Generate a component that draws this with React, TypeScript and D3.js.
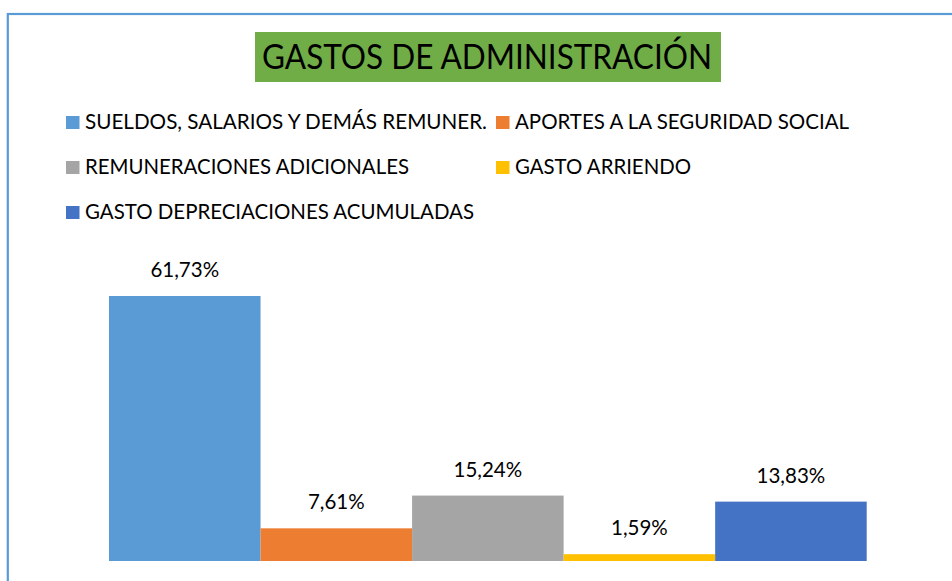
import React from "react";
import * as d3 from "d3";

const categories = [
  "SUELDOS, SALARIOS Y DEMÁS REMUNER.",
  "APORTES A LA SEGURIDAD SOCIAL",
  "REMUNERACIONES ADICIONALES",
  "GASTO ARRIENDO",
  "GASTO DEPRECIACIONES ACUMULADAS",
];
const values = [61.73, 7.61, 15.24, 1.59, 13.83];
const colors = ["#5B9BD5", "#ED7D31", "#A5A5A5", "#FFC000", "#4472C4"];
const legendWidths = [402, 334, 324, 176, 389];
const title = "GASTOS DE ADMINISTRACIÓN";

const FONT = "Lato, 'Open Sans', sans-serif";

export default function App() {
  const W = 952;
  const H = 581;
  const x = d3
    .scaleBand<string>()
    .domain(categories)
    .range([109, 866.7])
    .paddingInner(0)
    .paddingOuter(0);
  const y = d3.scaleLinear().domain([0, 70]).range([561, 260.5]);
  const fmt = (v: number) => v.toFixed(2).replace(".", ",") + "%";

  const legendPos = [
    { x: 66, y: 116 },
    { x: 496, y: 116 },
    { x: 66, y: 161 },
    { x: 496, y: 161 },
    { x: 66, y: 206 },
  ];

  return (
    <svg
      width={W}
      height={H}
      style={{ position: "absolute", left: 0, top: 0, background: "#fff" }}
    >
      <rect x={0} y={0} width={W} height={H} fill="#fff" />
      <rect
        x={7.8}
        y={14}
        width={1200}
        height={1200}
        fill="none"
        stroke="#5B9BD5"
        strokeWidth={2.2}
      />
      <rect x={255} y={32} width={466} height={50} fill="#70AD47" />
      <text
        x={262}
        y={69.3}
        fontFamily={FONT}
        fontSize={34}
        fill="#000"
        textLength={450}
        lengthAdjust="spacingAndGlyphs"
      >
        {title}
      </text>
      {categories.map((c, i) => (
        <g key={"lg" + i}>
          <rect
            x={legendPos[i].x}
            y={legendPos[i].y}
            width={13.5}
            height={13}
            fill={colors[i]}
          />
          <text
            x={legendPos[i].x + 19}
            y={legendPos[i].y + 13.3}
            fontFamily={FONT}
            fontSize={21}
            fill="#000"
            textLength={legendWidths[i]}
            lengthAdjust="spacingAndGlyphs"
          >
            {c}
          </text>
        </g>
      ))}
      {categories.map((c, i) => (
        <g key={"b" + i}>
          <rect
            x={x(c)!}
            y={y(values[i])}
            width={x.bandwidth()}
            height={y(0) - y(values[i])}
            fill={colors[i]}
          />
          <text
            x={x(c)! + x.bandwidth() / 2}
            y={y(values[i]) - 19}
            textAnchor="middle"
            fontFamily={FONT}
            fontSize={20.5}
            fill="#000"
          >
            {fmt(values[i])}
          </text>
        </g>
      ))}
    </svg>
  );
}
